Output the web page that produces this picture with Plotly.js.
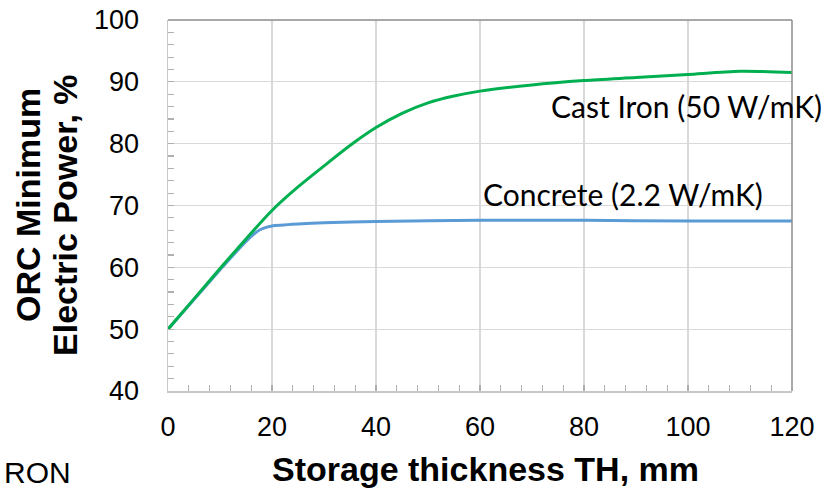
<!DOCTYPE html>
<html>
<head>
<meta charset="utf-8">
<script src="https://cdn.plot.ly/plotly-3.0.1.min.js"></script>
<style>html,body{margin:0;padding:0;background:#fff;}#chart{width:833px;height:490px;}</style>
</head>
<body>
<div id="chart"></div>
<script>
// Data
const castIronX = [0, 5, 10, 15, 20, 25, 30, 35, 40, 45, 50, 55, 60, 70, 80, 90, 100, 110, 120];
const castIronY = [50, 54.9, 59.8, 64.6, 69.2, 73.0, 76.4, 79.7, 82.6, 84.9, 86.6, 87.7, 88.5, 89.5, 90.2, 90.7, 91.2, 91.7, 91.5];
const concreteX = [0, 5, 10, 15, 17, 18, 19, 20, 25, 30, 40, 60, 80, 100, 120];
const concreteY = [50, 54.8, 59.6, 64.2, 65.7, 66.2, 66.5, 66.7, 67.0, 67.2, 67.4, 67.6, 67.6, 67.5, 67.5];
const xTicks = [0, 20, 40, 60, 80, 100, 120];
const yTicks = [40, 50, 60, 70, 80, 90, 100];
const castIronLabel = "Cast Iron (50 W/mK)";
const concreteLabel = "Concrete (2.2 W/mK)";
const xTitle = "Storage thickness TH, mm";
const yTitleLine1 = "ORC Minimum";
const yTitleLine2 = "Electric Power, %";
const strayText = "RON";

const traces = [
  {x: concreteX, y: concreteY, type: 'scatter', mode: 'lines', name: 'Concrete',
   line: {color: '#5b9bd5', width: 3, shape: 'spline', smoothing: 0.6}},
  {x: castIronX, y: castIronY, type: 'scatter', mode: 'lines', name: 'Cast Iron',
   line: {color: '#00b050', width: 3, shape: 'spline', smoothing: 0.8}}
];

const tickFont = {family: 'Liberation Sans, Arial, sans-serif', size: 27, color: '#000'};
const titleFont = {family: 'Liberation Sans, Arial, sans-serif', size: 34, color: '#000', weight: 'bold'};
const labelFont = {family: 'Lato, Open Sans, sans-serif', size: 30, color: '#000'};

const layout = {
  width: 833, height: 490,
  margin: {l: 168, r: 41, t: 19.5, b: 98.5},
  paper_bgcolor: '#fff', plot_bgcolor: '#fff',
  showlegend: false,
  xaxis: {
    range: [0, 120], tickvals: xTicks, ticktext: xTicks.map(String),
    showgrid: true, gridcolor: '#d9d9d9', gridwidth: 1.3,
    showline: true, linecolor: '#c8c8c8', linewidth: 1.5,
    ticks: 'inside', ticklen: 0, tickfont: tickFont, ticklabelstandoff: 11,
    minor: {dtick: 4, tick0: 0, ticks: 'inside', ticklen: 6, tickcolor: '#b0b0b0', tickwidth: 1.2, showgrid: false},
    zeroline: false, fixedrange: true
  },
  yaxis: {
    range: [40, 100], tickvals: yTicks, ticktext: yTicks.map(String),
    showgrid: true, gridcolor: '#d9d9d9', gridwidth: 1.3,
    showline: true, linecolor: '#c8c8c8', linewidth: 1.5,
    ticks: 'inside', ticklen: 0, tickfont: tickFont, ticklabelstandoff: 22,
    minor: {dtick: 2, tick0: 40, ticks: 'inside', ticklen: 6, tickcolor: '#b0b0b0', tickwidth: 1.2, showgrid: false},
    zeroline: false, fixedrange: true
  },
  shapes: [
    {type: 'line', xref: 'paper', yref: 'paper', x0: 0, x1: 1, y0: 1, y1: 1, line: {color: '#8c8c8c', width: 1.5}},
    {type: 'line', xref: 'paper', yref: 'paper', x0: 1, x1: 1, y0: 0, y1: 1, line: {color: '#8c8c8c', width: 1.5}}
  ],
  annotations: [
    {text: castIronLabel, xref: 'paper', yref: 'paper', x: (549 - 168) / 624, y: (391.5 - 106) / 372,
     xanchor: 'left', yanchor: 'middle', showarrow: false, font: labelFont},
    {text: concreteLabel, xref: 'paper', yref: 'paper', x: (481 - 168) / 624, y: (391.5 - 194) / 372,
     xanchor: 'left', yanchor: 'middle', showarrow: false, font: labelFont},
    {text: xTitle, xref: 'paper', yref: 'paper', x: (485 - 168) / 624, y: (391.5 - 470) / 372,
     xanchor: 'center', yanchor: 'middle', showarrow: false, font: titleFont},
    {text: yTitleLine1, xref: 'paper', yref: 'paper', x: (28 - 168) / 624, y: (391.5 - 205) / 372,
     xanchor: 'center', yanchor: 'middle', textangle: -90, showarrow: false, font: titleFont},
    {text: yTitleLine2, xref: 'paper', yref: 'paper', x: (65 - 168) / 624, y: (391.5 - 215) / 372,
     xanchor: 'center', yanchor: 'middle', textangle: -90, showarrow: false, font: titleFont},
    {text: strayText, xref: 'paper', yref: 'paper', x: (73 - 168) / 624, y: (391.5 - 473) / 372,
     xanchor: 'right', yanchor: 'middle', showarrow: false,
     font: {family: 'Liberation Sans, Arial, sans-serif', size: 30, color: '#000'}}
  ]
};

Plotly.newPlot('chart', traces, layout, {displayModeBar: false, staticPlot: true});
</script>
</body>
</html>
